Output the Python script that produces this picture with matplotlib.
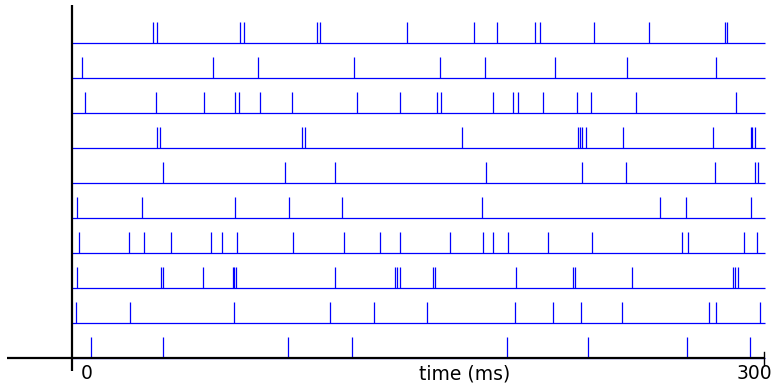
import numpy as np
import matplotlib
matplotlib.use('Agg')
import matplotlib.pyplot as plt

# spike times (ms), one list per train, top row first
train_01 = [35.0, 36.7, 73.0, 74.6, 106.1, 107.6, 145.2, 174.1, 184.2, 200.8, 203.0,
            226.3, 250.1, 283.1, 283.8]
train_02 = [4.3, 61.1, 80.5, 122.4, 159.4, 179.2, 209.2, 240.6, 279.1]
train_03 = [5.5, 36.3, 57.2, 70.8, 72.5, 81.5, 95.2, 123.5, 142.3, 158.1, 159.8,
            182.6, 191.2, 193.3, 204.2, 218.8, 225.1, 244.6, 287.7]
train_04 = [36.8, 38.2, 99.7, 100.9, 168.9, 219.5, 220.2, 221.2, 222.8, 238.8,
            278.0, 294.2, 294.9, 296.1]
train_05 = [39.6, 92.5, 114.0, 179.3, 221.2, 240.0, 278.6, 296.2, 297.2]
train_06 = [2.0, 30.5, 70.8, 94.1, 116.9, 177.6, 254.9, 266.1, 294.3]
train_07 = [3.2, 24.8, 31.1, 42.9, 60.1, 65.1, 71.4, 95.8, 118.0, 133.4, 142.3,
            164.0, 178.2, 182.5, 188.9, 206.5, 225.3, 264.4, 267.0, 291.2, 296.8]
train_08 = [2.0, 38.4, 39.6, 56.7, 69.7, 70.2, 71.1, 114.1, 140.1, 141.0, 142.2,
            156.3, 157.3, 192.3, 217.2, 217.9, 242.7, 286.4, 287.4, 288.7]
train_09 = [1.6, 25.3, 70.2, 111.7, 130.9, 153.8, 191.9, 208.4, 220.6, 238.4,
            276.2, 279.0, 298.4]
train_10 = [8.4, 39.6, 93.6, 121.4, 188.7, 223.7, 266.6, 293.8]

trains = [train_01, train_02, train_03, train_04, train_05,
          train_06, train_07, train_08, train_09, train_10]
t_max = 300

fig = plt.figure(figsize=(7.76, 3.84), dpi=100)
ax = fig.add_axes([0, 0, 1, 1])
ax.set_xlim(-31.21, 305.2)
ax.set_ylim(-0.742, 10.217)
ax.axis('off')

blue = '#0000ff'
n = len(trains)
for i, spikes in enumerate(trains):
    row = n - 1 - i
    ax.hlines(row, 0, t_max + 0.4, color=blue, lw=0.9)
    ax.vlines(spikes, row, row + 0.6, color=blue, lw=0.9)

# axes drawn by hand
ax.plot([-28.2, t_max], [0, 0], color='black', lw=1.6, zorder=5, solid_capstyle='butt')
ax.plot([0, 0], [-0.37, 10.07], color='black', lw=1.6, zorder=5, solid_capstyle='butt')
ax.plot([t_max, t_max], [-0.2, 0.17], color='black', lw=1.0, zorder=5)

ax.text(6.3, -0.6, '0', ha='center', va='baseline', fontsize=13.5)
ax.text(170.4, -0.6, 'time (ms)', ha='center', va='baseline', fontsize=13.5)
ax.text(303.5, -0.6, '300', ha='right', va='baseline', fontsize=13.5)

fig.savefig('out.png', dpi=100)
